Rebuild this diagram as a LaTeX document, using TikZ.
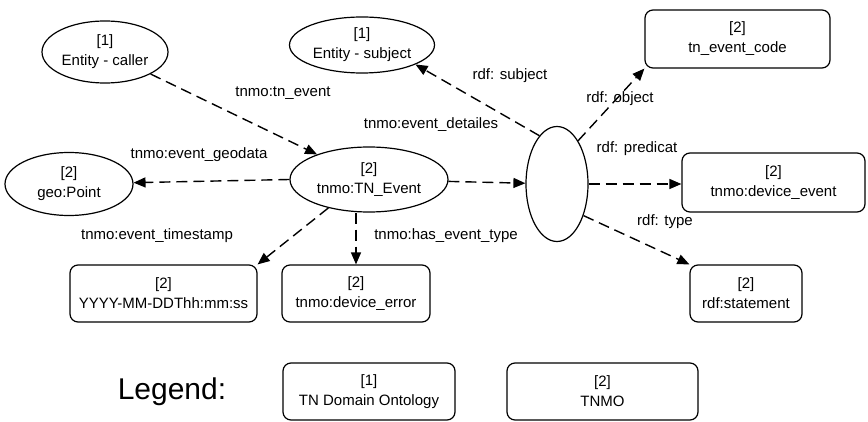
\documentclass[tikz,border=0pt]{standalone}
\usepackage{fontspec}
\setmainfont{Liberation Sans}
\usetikzlibrary{arrows.meta,shapes.geometric}
\begin{document}
\begin{tikzpicture}[x=1pt,y=-1pt,
  every node/.style={font=\fontsize{15}{20}\selectfont, inner sep=0pt},
  ent/.style={draw, ellipse, line width=1.2pt, align=center},
  cls/.style={draw, rectangle, rounded corners=8pt, line width=1.2pt, align=center, minimum height=57pt},
  rel/.style={draw, line width=1.4pt, dash pattern=on 11pt off 6pt,
    -{Triangle[length=12pt,width=10pt]}}]
\useasboundingbox (0,0) rectangle (868,422);

% ontology entities (ellipses)
\node[ent, minimum width=126pt, minimum height=62pt] (caller) at (105,52) {[1]\\Entity - caller};
\node[ent, minimum width=145pt, minimum height=56pt] (subject) at (362,45) {[1]\\Entity - subject};
\node[ent, minimum width=128pt, minimum height=63pt] (geo) at (69,184) {[2]\\geo:Point};
\node[ent, minimum width=158pt, minimum height=65pt] (tn) at (369,179.5) {[2]\\tnmo:TN\_Event};
\node[ent, minimum width=62pt, minimum height=115pt] (mid) at (557,184) {};

% classes and literals (rounded boxes)
\node[cls, minimum width=185pt, minimum height=58pt] (code) at (737.5,39) {[2]\\tn\_event\_code};
\node[cls, minimum width=183pt, minimum height=59pt] (devev) at (773.5,182.5) {[2]\\tnmo:device\_event};
\node[cls, minimum width=187pt] (stamp) at (163.5,293.5) {[2]\\YYYY-MM-DDThh:mm:ss};
\node[cls, minimum width=148pt] (err) at (356,293.5) {[2]\\tnmo:device\_error};
\node[cls, minimum width=112pt] (stmt) at (746,293.5) {[2]\\rdf:statement};

% legend
\node[font=\fontsize{30}{36}\selectfont] (legend) at (172,392) {Legend:};
\node[cls, minimum width=172pt] (leg1) at (369,391.5) {[1]\\TN Domain Ontology};
\node[cls, minimum width=191pt] (leg2) at (602.5,391.5) {[2]\\TNMO};

% relations
\draw[rel] (caller) -- (tn);
\draw[rel] (tn.west) -- (geo);
\draw[rel] (tn.215) -- (stamp.north east);
\draw[rel] (tn.south -| err.north) -- (err.north);
\draw[rel] (tn) -- (mid);
\draw[rel] (mid.110) -- (subject.-20);
\draw[rel] (mid.64) -- (code.south west);
\draw[rel] (mid.east) -- (mid.east -| devev.west);
\draw[rel] (mid.-50) -- (stmt.north west);

% relation labels
\node (l1) at (283,93) {tnmo:tn\_event};
\node (l2) at (431,125) {tnmo:event\_detailes};
\node (l3) at (510,76) {rdf: subject};
\node (l4) at (620,99) {rdf: object};
\node (l5) at (637,149) {rdf: predicat};
\node (l6) at (665,222) {rdf: type};
\node (l7) at (446,236) {tnmo:has\_event\_type};
\node (l8) at (157,236) {tnmo:event\_timestamp};
\node (l9) at (199,155) {tnmo:event\_geodata};
\end{tikzpicture}
\end{document}
